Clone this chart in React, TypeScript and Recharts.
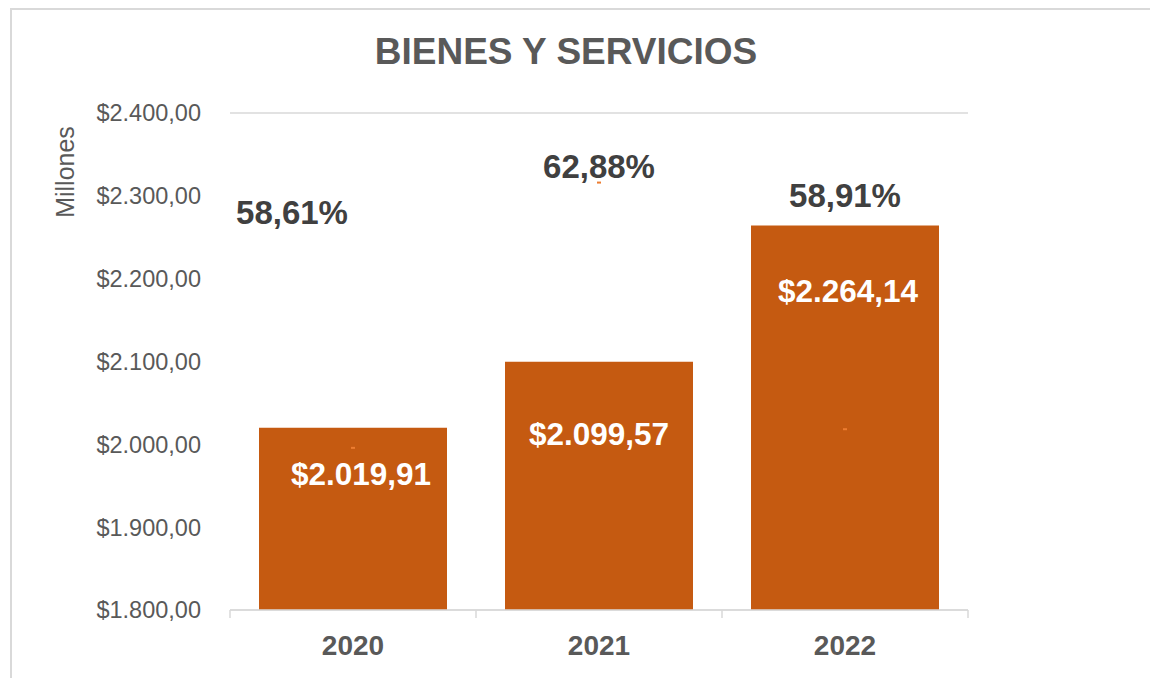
import React from 'react'
import { ComposedChart, Bar, Line, XAxis, YAxis, CartesianGrid, LabelList } from 'recharts'

const years = ['2020', '2021', '2022']
const montos = [2019.91, 2099.57, 2264.14]
const porcentajes = [58.61, 62.88, 58.91]
const yTicks = [1800, 1900, 2000, 2100, 2200, 2300, 2400]

// label nudges, picked by eye from the reference
const pctOffsets = [[-61, -235], [0, -16], [0, -234]]
const barLabelOffsets = [[8, 46], [0, 72], [3, 65]]

const data = years.map((y, i) => ({ year: y, monto: montos[i], pct: porcentajes[i] }))

const FONT = '"Liberation Sans", Arial, sans-serif'
const GRAY = '#595959'
const BAND = (968 - 230) / 3

function money(v: number) {
  const [ent, dec] = v.toFixed(2).split('.')
  return '$' + ent.replace(/\B(?=(\d{3})+(?!\d))/g, '.') + ',' + dec
}

function XTick(props: any) {
  const { x, y, payload, index } = props
  const left = x - BAND / 2
  return (
    <g>
      <line x1={left} x2={left} y1={y - 8} y2={y} stroke="#d9d9d9" strokeWidth={1.5} />
      {index === years.length - 1 && (
        <line x1={x + BAND / 2} x2={x + BAND / 2} y1={y - 8} y2={y} stroke="#d9d9d9" strokeWidth={1.5} />
      )}
      <text x={x} y={y + 27} textAnchor="middle" dominantBaseline="central" fill={GRAY} fontSize={28}
        fontWeight="bold" fontFamily={FONT}>
        {payload.value}
      </text>
    </g>
  )
}

function PctLabel(props: any) {
  const { x, y, index, value } = props
  const [dx, dy] = pctOffsets[index]
  return (
    <text x={x + dx} y={y + dy} textAnchor="middle" dominantBaseline="central" fill="#404040"
      fontSize={33} fontWeight="bold" fontFamily={FONT}>
      {value.toFixed(2).replace('.', ',') + '%'}
    </text>
  )
}

function MontoLabel(props: any) {
  const { x, y, width, index, value } = props
  const [dx, dy] = barLabelOffsets[index]
  return (
    <text x={x + width / 2 + dx} y={y + dy} textAnchor="middle" dominantBaseline="central" fill="#fff"
      fontSize={31.5} fontWeight="bold" fontFamily={FONT}>
      {money(value)}
    </text>
  )
}

function Dash(props: any) {
  const { cx, cy } = props
  return <rect x={cx - 2} y={cy - 1} width={4} height={2} fill="#ED7D31" />
}

export default function App() {
  return (
    <div style={{ position: 'fixed', left: 0, top: 0, width: 1150, height: 678, overflow: 'hidden', background: '#fff' }}>
      <div style={{ position: 'absolute', left: 10, top: 8, width: 1300, height: 800, border: '2px solid #d9d9d9' }} />
      <div style={{ position: 'absolute', left: 0, top: 31, width: 1132, textAlign: 'center', fontFamily: FONT,
        fontSize: 37, lineHeight: '42px', fontWeight: 'bold', color: GRAY }}>
        BIENES Y SERVICIOS
      </div>
      <div style={{ position: 'absolute', left: 0, top: 0 }}>
        <ComposedChart width={1150} height={678} data={data} margin={{ top: 113, right: 182, bottom: 38, left: 0 }}>
          <CartesianGrid vertical={false} stroke="#d9d9d9" strokeWidth={1.5} />
          <XAxis dataKey="year" height={30} stroke="#d9d9d9" strokeWidth={1.5} tickLine={false} tick={<XTick />} interval={0} />
          <YAxis yAxisId="monto" domain={[1800, 2400]} ticks={yTicks} width={230} axisLine={false} tickLine={false}
            tickMargin={23} tickFormatter={money}
            tick={{ fill: GRAY, fontSize: 23.5, fontFamily: FONT }}
            label={() => (
              <text transform="rotate(-90, 65, 172)" x={65} y={172} textAnchor="middle" dominantBaseline="central"
                fill={GRAY} fontSize={25} fontFamily={FONT}>Millones</text>
            )} />
          <YAxis yAxisId="pct" orientation="right" domain={[56, 64]} hide />
          <Bar yAxisId="monto" dataKey="monto" fill="#C55A11" barSize={188} isAnimationActive={false}>
            <LabelList dataKey="monto" content={<MontoLabel />} />
          </Bar>
          <Line yAxisId="pct" dataKey="pct" stroke="none" dot={<Dash />} activeDot={false} isAnimationActive={false}>
            <LabelList dataKey="pct" content={<PctLabel />} />
          </Line>
        </ComposedChart>
      </div>
    </div>
  )
}
